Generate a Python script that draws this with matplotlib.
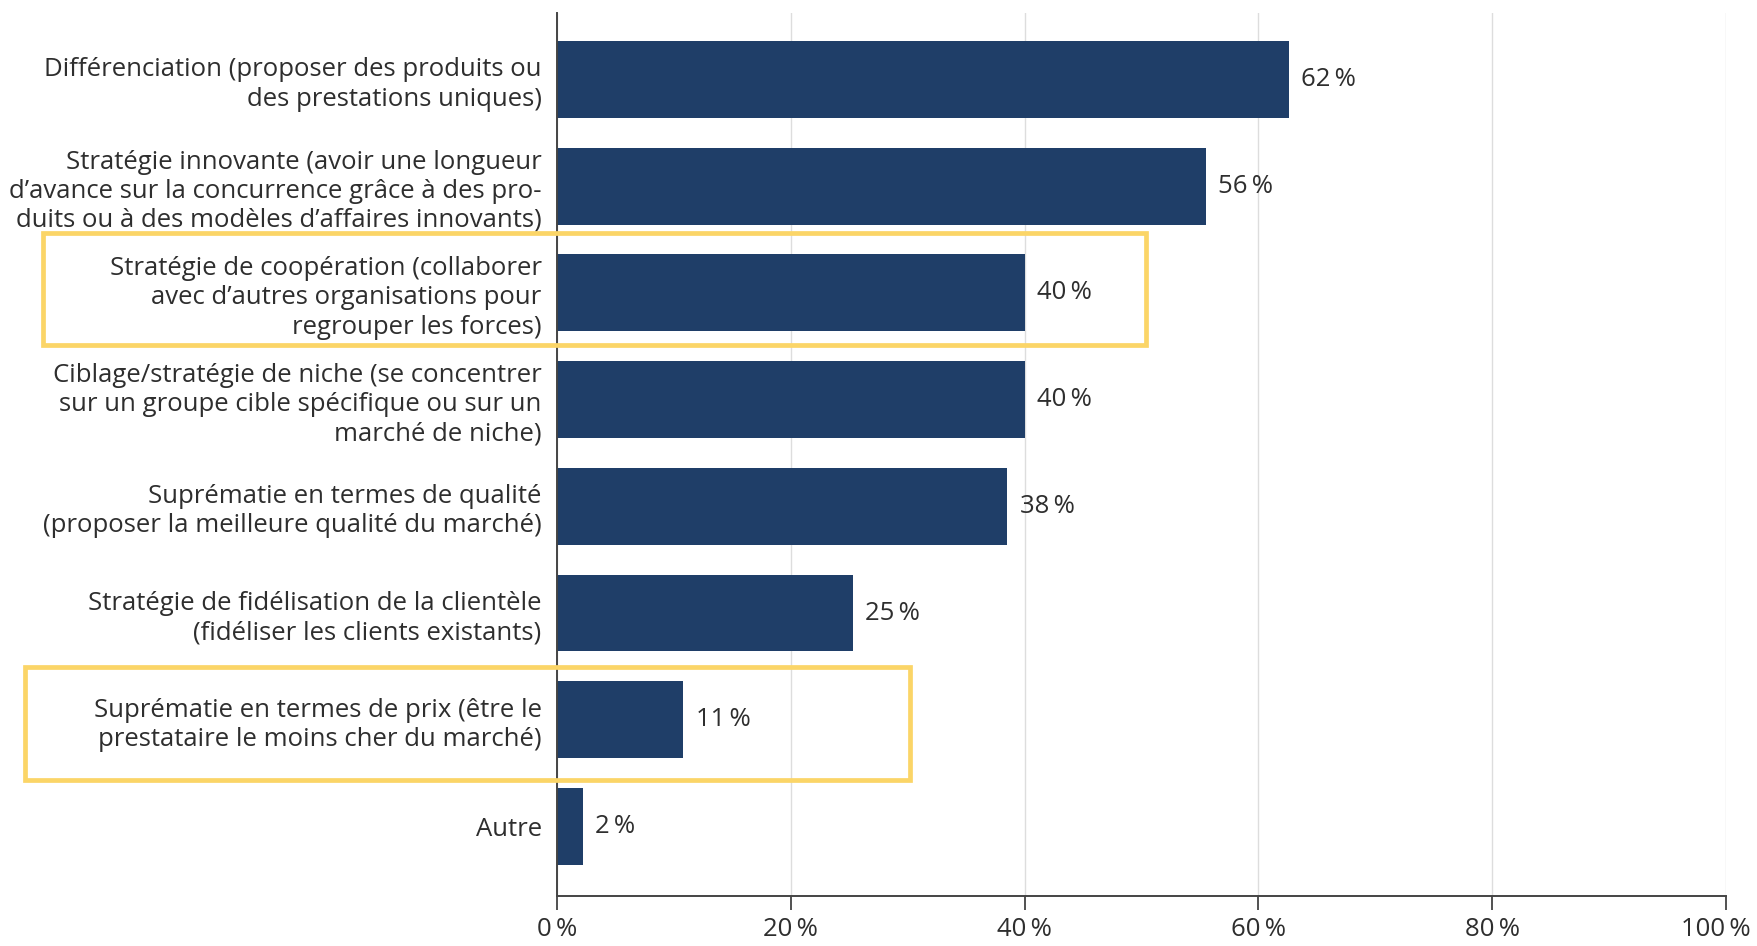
import matplotlib
matplotlib.use("Agg")
import matplotlib.pyplot as plt
from matplotlib.patches import Rectangle
import matplotlib.transforms as mtransforms

plt.rcParams['font.family'] = ['Open Sans', 'DejaVu Sans']

categories = [
    "Différenciation (proposer des produits ou\ndes prestations uniques)",
    "Stratégie innovante (avoir une longueur\nd’avance sur la concurrence grâce à des pro-\nduits ou à des modèles d’affaires innovants)",
    "Stratégie de coopération (collaborer\navec d’autres organisations pour\nregrouper les forces)",
    "Ciblage/stratégie de niche (se concentrer\nsur un groupe cible spécifique ou sur un\nmarché de niche)",
    "Suprématie en termes de qualité\n(proposer la meilleure qualité du marché)",
    "Stratégie de fidélisation de la clientèle\n(fidéliser les clients existants)",
    "Suprématie en termes de prix (être le\nprestataire le moins cher du marché)",
    "Autre",
]
values = [62.6, 55.5, 40.0, 40.0, 38.5, 25.3, 10.8, 2.2]
value_labels = ["62\u2009%", "56\u2009%", "40\u2009%", "40\u2009%", "38\u2009%", "25\u2009%", "11\u2009%", "2\u2009%"]
xticks = [0, 20, 40, 60, 80, 100]
xtick_labels = ["0\u2009%", "20\u2009%", "40\u2009%", "60\u2009%", "80\u2009%", "100\u2009%"]
highlighted = [2, 6]

BAR = "#1F3E68"
TXT = "#2E2E2E"
YEL = "#FBD567"
FS = 18.5

fig = plt.figure(figsize=(17.57, 9.46), dpi=100)
ax = fig.add_axes([0.317, 0.053, 0.6654, 0.933])

y = list(range(len(categories)))
ax.barh(y, values, height=0.72, color=BAR, zorder=3)
ax.set_ylim(7.65, -0.62)
ax.set_xlim(0, 100)

for yi, v, lab in zip(y, values, value_labels):
    ax.annotate(lab, (v, yi), xytext=(9, 0), textcoords="offset points",
                ha="left", va="center", fontsize=FS, color=TXT)

ax.set_yticks(y)
ax.set_yticklabels(categories, fontsize=FS, color=TXT, linespacing=1.22,
                   multialignment="right")
ax.tick_params(axis="y", length=0, pad=11)

ax.set_xticks(xticks)
ax.set_xticklabels(xtick_labels, fontsize=FS, color=TXT)
ax.tick_params(axis="x", length=10, width=1.2, color="#333333", pad=5)
last = ax.get_xticklabels()[-1]
last.set_transform(last.get_transform() +
                   mtransforms.ScaledTranslation(-10 / 100, 0, fig.dpi_scale_trans))

ax.grid(axis="x", color="#DDDDDD", linewidth=1.0, zorder=0)
for s in ["top", "right"]:
    ax.spines[s].set_visible(False)
for s in ["left", "bottom"]:
    ax.spines[s].set_color("#444444")
    ax.spines[s].set_linewidth(1.4)
    ax.spines[s].set_zorder(4)

# highlight boxes: x in figure fraction, y in data coordinates
trans = mtransforms.blended_transform_factory(fig.transFigure, ax.transData)
boxes = {2: (0.0245, 0.652, 1.438, 2.487), 6: (0.0142, 0.518, 5.509, 6.569)}
for idx in highlighted:
    x0, x1, y0, y1 = boxes[idx]
    r = Rectangle((x0, y0), x1 - x0, y1 - y0, transform=trans, fill=False,
                  edgecolor=YEL, linewidth=3.4, clip_on=False, zorder=5)
    fig.add_artist(r)

fig.savefig("out.png", dpi=100, facecolor="white")
